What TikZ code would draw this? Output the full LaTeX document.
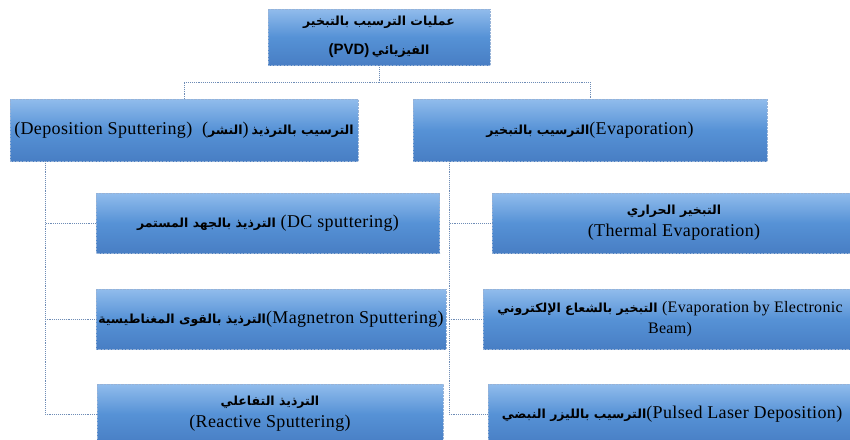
\documentclass[tikz,border=0pt]{standalone}
\usepackage{fontspec}
\setmainfont[LetterSpace=2]{Liberation Serif}
\newfontfamily\arabicfont[Script=Arabic]{DejaVu Sans}
\newfontfamily\headfont{Liberation Sans}
\TeXXeTstate=1
\usetikzlibrary{positioning}
\definecolor{pvdtop}{RGB}{145,188,236}
\definecolor{pvdmid}{RGB}{86,146,214}
\definecolor{pvdbot}{RGB}{72,126,196}
\definecolor{pvdedge}{RGB}{150,178,215}
\definecolor{pvdline}{RGB}{110,140,182}
\newcommand{\artxt}[1]{{\arabicfont\bfseries\fontsize{12.5}{18}\selectfont\beginR #1\endR}}

\begin{document}
\begin{tikzpicture}[
    x=1pt, y=-1pt,
    font=\fontsize{18}{22}\selectfont,
    box/.style={draw=pvdedge, densely dotted, top color=pvdtop, bottom color=pvdbot, middle color=pvdmid, align=center, inner sep=2pt, minimum height=60pt},
    conn/.style={draw=pvdline, densely dotted, line width=0.9pt},
]
\useasboundingbox (0,0) rectangle (850,439);
\clip (0,0) rectangle (850,439);
\fill[white] (0,0) rectangle (850,439);

% Root
\node[box, minimum width=222pt, minimum height=56pt, font=\fontsize{15}{29}\selectfont] (pvd) at (379,37)
  {\artxt{عمليات الترسيب بالتبخير}\\{\headfont\bfseries(PVD)}\,\artxt{الفيزيائي}};

% Two families
\node[box, minimum width=348pt, minimum height=62pt] (dep)  at (184,130)
  {(Deposition Sputtering)\ \ (\artxt{النشر})\,\artxt{الترسيب بالترذيذ}};
\node[box, minimum width=354pt, minimum height=62pt] (evap) at (590,130)
  {\artxt{الترسيب بالتبخير}(Evaporation)};

% Sputtering methods
\node[box, minimum width=343pt] (dc)  at (268,223) {\artxt{الترذيذ بالجهد المستمر}\ (DC sputtering)};
\node[box, minimum width=348pt] (mag) at (271,319) {\artxt{الترذيذ بالقوى المغناطيسية}(Magnetron Sputtering)};
\node[box, minimum width=346pt] (rea) at (270,414) {\artxt{الترذيذ التفاعلي}\\(Reactive Sputtering)};

% Evaporation methods
\node[box, minimum width=364pt] (therm) at (674,223) {\artxt{التبخير الحراري}\\(Thermal Evaporation)};
\node[box, minimum width=374pt, font=\fontsize{16}{21}\selectfont] (ebeam) at (670,319)
  {\artxt{التبخير بالشعاع الإلكتروني}\ (Evaporation by Electronic\\Beam)};
\node[box, minimum width=368pt] (pld)   at (672,414) {\artxt{الترسيب بالليزر النبضي}(Pulsed Laser Deposition)};

% Spines
\coordinate (lspine) at (45,161);
\coordinate (rspine) at (449,161);

% Connectors
\draw[conn] (pvd.south) -- ++(0,17) -| (dep.north);
\draw[conn] (pvd.south) -- ++(0,17) -| (evap.north);
\draw[conn] (lspine) |- (dc.west);
\draw[conn] (lspine) |- (mag.west);
\draw[conn] (lspine) |- (rea.west);
\draw[conn] (rspine) |- (therm.west);
\draw[conn] (rspine) |- (ebeam.west);
\draw[conn] (rspine) |- (pld.west);

\end{tikzpicture}
\end{document}
